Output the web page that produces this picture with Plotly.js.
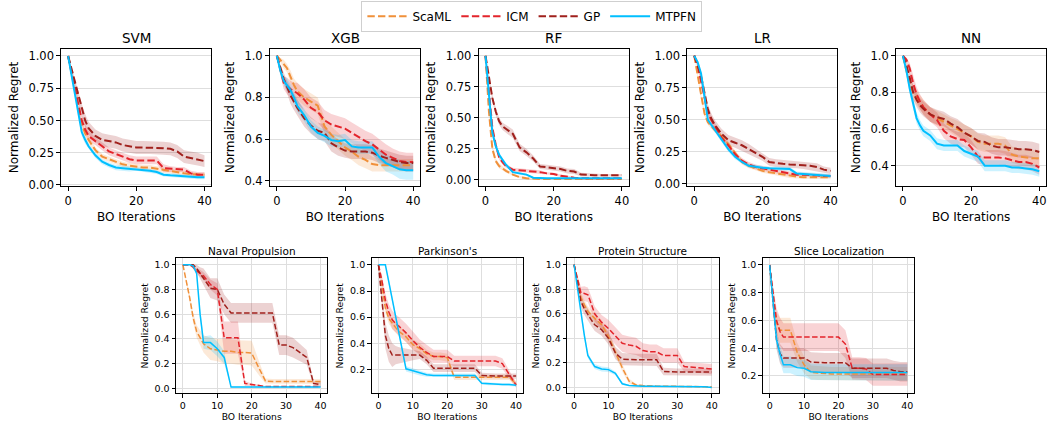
<!DOCTYPE html>
<html><head><meta charset="utf-8">
<script src="https://cdn.plot.ly/plotly-3.0.1.min.js"></script>
<style>html,body{margin:0;padding:0;background:#fff}#chart{width:1047px;height:425px}</style>
</head><body><div id="chart"></div>
<script>
const ITER = [0,1,2,3,4,5,6,8,10,12,14,16,18,20,22,24,26,28,30,32,34,36,38,40];
const METHODS = ['ScaML','ICM','GP','MTPFN'];

// ---- SVM ----
const svm_scaml = [1.0,0.86,0.72,0.58,0.47,0.40,0.35,0.27,0.22,0.20,0.18,0.16,0.15,0.14,0.135,0.135,0.125,0.115,0.11,0.095,0.09,0.083,0.08,0.08];
const svm_scaml_sd = [0,0.02,0.03,0.03,0.03,0.03,0.03,0.02,0.02,0.02,0.02,0.02,0.02,0.02,0.02,0.02,0.02,0.02,0.02,0.02,0.02,0.015,0.015,0.015];
const svm_icm = [1.0,0.88,0.76,0.62,0.50,0.43,0.38,0.34,0.30,0.26,0.24,0.22,0.20,0.19,0.19,0.19,0.19,0.13,0.125,0.12,0.12,0.09,0.08,0.08];
const svm_icm_sd = [0,0.02,0.03,0.04,0.04,0.04,0.04,0.03,0.03,0.03,0.03,0.03,0.03,0.03,0.03,0.03,0.03,0.03,0.02,0.02,0.02,0.02,0.02,0.02];
const svm_gp = [1.0,0.90,0.79,0.68,0.58,0.50,0.44,0.38,0.35,0.34,0.33,0.31,0.30,0.29,0.29,0.29,0.29,0.285,0.28,0.26,0.22,0.21,0.20,0.185];
const svm_gp_sd = [0,0.02,0.03,0.04,0.05,0.05,0.05,0.05,0.05,0.05,0.05,0.05,0.05,0.05,0.05,0.05,0.05,0.05,0.05,0.05,0.05,0.05,0.05,0.045];
const svm_mtpfn = [1.0,0.85,0.70,0.55,0.41,0.35,0.30,0.23,0.18,0.155,0.135,0.13,0.125,0.125,0.12,0.11,0.10,0.08,0.075,0.07,0.07,0.065,0.06,0.06];
const svm_mtpfn_sd = [0,0.02,0.03,0.03,0.03,0.03,0.02,0.02,0.02,0.02,0.02,0.02,0.02,0.015,0.015,0.015,0.015,0.015,0.015,0.015,0.015,0.015,0.015,0.015];

// ---- XGB ----
const xgb_scaml = [1.0,0.98,0.96,0.94,0.90,0.86,0.83,0.80,0.78,0.76,0.66,0.62,0.59,0.56,0.54,0.515,0.50,0.48,0.475,0.475,0.475,0.475,0.475,0.475];
const xgb_scaml_sd = [0,0.01,0.02,0.02,0.03,0.03,0.04,0.04,0.04,0.04,0.04,0.04,0.04,0.04,0.04,0.04,0.04,0.035,0.03,0.03,0.03,0.03,0.03,0.03];
const xgb_icm = [1.0,0.93,0.87,0.855,0.84,0.83,0.82,0.79,0.75,0.73,0.69,0.67,0.66,0.65,0.63,0.61,0.59,0.575,0.55,0.525,0.51,0.495,0.49,0.49];
const xgb_icm_sd = [0,0.02,0.03,0.04,0.04,0.04,0.05,0.05,0.05,0.05,0.05,0.05,0.05,0.05,0.05,0.05,0.05,0.05,0.05,0.05,0.045,0.045,0.045,0.045];
const xgb_gp = [1.0,0.94,0.89,0.85,0.81,0.78,0.75,0.70,0.665,0.64,0.63,0.58,0.56,0.545,0.54,0.54,0.54,0.535,0.52,0.51,0.50,0.49,0.485,0.485];
const xgb_gp_sd = [0,0.02,0.03,0.03,0.04,0.04,0.04,0.04,0.04,0.04,0.04,0.04,0.04,0.035,0.035,0.035,0.035,0.035,0.035,0.035,0.035,0.035,0.035,0.035];
const xgb_mtpfn = [1.0,0.93,0.88,0.86,0.835,0.80,0.76,0.715,0.66,0.63,0.615,0.595,0.59,0.595,0.565,0.56,0.56,0.56,0.515,0.485,0.47,0.455,0.45,0.45];
const xgb_mtpfn_sd = [0,0.02,0.02,0.03,0.03,0.03,0.03,0.03,0.03,0.03,0.03,0.03,0.03,0.03,0.03,0.03,0.03,0.03,0.035,0.04,0.04,0.045,0.045,0.045];

// ---- RF ----
const rf_scaml = [1.0,0.55,0.25,0.15,0.11,0.09,0.07,0.04,0.02,0.01,0.005,0.005,0.005,0.005,0.005,0.005,0.005,0.005,0.005,0.005,0.005,0.005,0.005,0.005];
const rf_scaml_sd = [0,0.03,0.03,0.02,0.02,0.015,0.015,0.01,0.01,0.01,0.005,0.005,0.005,0.005,0.005,0.005,0.005,0.005,0.005,0.005,0.005,0.005,0.005,0.005];
const rf_icm = [1.0,0.70,0.42,0.28,0.18,0.14,0.11,0.08,0.075,0.07,0.07,0.06,0.05,0.045,0.03,0.02,0.015,0.01,0.01,0.01,0.01,0.01,0.01,0.01];
const rf_icm_sd = [0,0.03,0.03,0.03,0.02,0.02,0.015,0.015,0.015,0.015,0.015,0.015,0.01,0.01,0.01,0.01,0.01,0.005,0.005,0.005,0.005,0.005,0.005,0.005];
const rf_gp = [1.0,0.82,0.66,0.55,0.47,0.43,0.41,0.37,0.26,0.22,0.17,0.105,0.10,0.095,0.085,0.07,0.065,0.04,0.035,0.035,0.035,0.035,0.035,0.035];
const rf_gp_sd = [0,0.02,0.03,0.03,0.03,0.03,0.03,0.035,0.03,0.03,0.025,0.02,0.02,0.02,0.02,0.02,0.02,0.015,0.015,0.01,0.01,0.01,0.01,0.01];
const rf_mtpfn = [1.0,0.68,0.38,0.27,0.20,0.16,0.12,0.06,0.05,0.04,0.015,0.01,0.01,0.01,0.01,0.01,0.01,0.01,0.01,0.01,0.01,0.01,0.01,0.01];
const rf_mtpfn_sd = [0,0.02,0.02,0.02,0.02,0.015,0.015,0.01,0.01,0.01,0.005,0.005,0.005,0.005,0.005,0.005,0.005,0.005,0.005,0.005,0.005,0.005,0.005,0.005];

// ---- LR ----
const lr_scaml = [1.0,0.85,0.68,0.55,0.48,0.45,0.42,0.37,0.31,0.24,0.17,0.14,0.12,0.10,0.09,0.08,0.07,0.06,0.055,0.05,0.05,0.05,0.05,0.05];
const lr_scaml_sd = [0,0.02,0.02,0.02,0.02,0.02,0.02,0.02,0.02,0.02,0.02,0.02,0.015,0.015,0.015,0.015,0.015,0.015,0.015,0.015,0.015,0.015,0.015,0.015];
const lr_icm = [1.0,0.92,0.80,0.68,0.55,0.50,0.45,0.36,0.30,0.23,0.18,0.15,0.13,0.12,0.11,0.10,0.09,0.08,0.07,0.07,0.07,0.065,0.06,0.06];
const lr_icm_sd = [0,0.02,0.03,0.03,0.03,0.03,0.03,0.02,0.02,0.02,0.02,0.02,0.02,0.02,0.02,0.02,0.02,0.02,0.015,0.015,0.015,0.015,0.015,0.015];
const lr_gp = [1.0,0.93,0.84,0.72,0.58,0.51,0.46,0.39,0.34,0.32,0.30,0.27,0.24,0.21,0.17,0.16,0.155,0.15,0.15,0.145,0.14,0.13,0.11,0.10];
const lr_gp_sd = [0,0.02,0.03,0.04,0.04,0.04,0.04,0.04,0.04,0.04,0.04,0.04,0.035,0.03,0.03,0.03,0.03,0.03,0.03,0.03,0.03,0.03,0.025,0.025];
const lr_mtpfn = [1.0,0.95,0.86,0.68,0.50,0.46,0.42,0.35,0.27,0.21,0.17,0.14,0.13,0.125,0.12,0.12,0.115,0.115,0.08,0.075,0.07,0.07,0.065,0.06];
const lr_mtpfn_sd = [0,0.01,0.02,0.02,0.02,0.02,0.02,0.02,0.02,0.02,0.015,0.015,0.015,0.015,0.015,0.015,0.015,0.015,0.015,0.015,0.015,0.015,0.015,0.015];

// ---- NN ----
const nn_scaml = [1.0,0.92,0.84,0.80,0.77,0.745,0.72,0.68,0.66,0.64,0.62,0.60,0.58,0.56,0.53,0.52,0.52,0.52,0.51,0.46,0.45,0.445,0.44,0.44];
const nn_scaml_sd = [0,0.02,0.03,0.04,0.04,0.04,0.04,0.04,0.04,0.04,0.04,0.045,0.045,0.045,0.045,0.045,0.045,0.045,0.045,0.045,0.045,0.045,0.045,0.045];
const nn_icm = [1.0,0.98,0.93,0.85,0.79,0.75,0.72,0.68,0.65,0.59,0.56,0.545,0.54,0.50,0.45,0.445,0.445,0.445,0.44,0.43,0.42,0.42,0.41,0.39];
const nn_icm_sd = [0,0.01,0.03,0.04,0.04,0.04,0.04,0.04,0.04,0.04,0.04,0.04,0.04,0.04,0.04,0.04,0.04,0.04,0.04,0.04,0.04,0.04,0.04,0.04];
const nn_gp = [1.0,0.95,0.88,0.80,0.76,0.73,0.71,0.68,0.665,0.655,0.63,0.61,0.58,0.56,0.535,0.53,0.51,0.50,0.50,0.495,0.49,0.49,0.485,0.475];
const nn_gp_sd = [0,0.02,0.03,0.04,0.04,0.04,0.04,0.04,0.04,0.04,0.04,0.045,0.045,0.045,0.045,0.045,0.045,0.045,0.045,0.045,0.045,0.045,0.045,0.045];
const nn_mtpfn = [1.0,0.92,0.82,0.74,0.66,0.62,0.59,0.565,0.52,0.51,0.51,0.51,0.48,0.465,0.45,0.40,0.40,0.40,0.40,0.39,0.39,0.385,0.38,0.37];
const nn_mtpfn_sd = [0,0.02,0.03,0.03,0.03,0.03,0.03,0.03,0.03,0.03,0.03,0.03,0.03,0.03,0.03,0.03,0.03,0.03,0.03,0.03,0.03,0.03,0.03,0.03];

// ---- Naval Propulsion ----
const naval_scaml = [1.0,0.87,0.73,0.57,0.46,0.41,0.36,0.32,0.31,0.30,0.30,0.29,0.29,0.285,0.17,0.06,0.055,0.055,0.055,0.055,0.055,0.055,0.055,0.055];
const naval_scaml_sd = [0,0.02,0.03,0.04,0.05,0.06,0.07,0.09,0.09,0.1,0.1,0.1,0.1,0.1,0.06,0.02,0.02,0.02,0.02,0.02,0.02,0.02,0.02,0.02];
const naval_icm = [1.0,1.0,1.0,0.98,0.95,0.93,0.91,0.84,0.80,0.41,0.41,0.41,0.04,0.03,0.02,0.015,0.015,0.015,0.015,0.015,0.015,0.015,0.015,0.015];
const naval_icm_sd = [0,0,0,0.01,0.02,0.03,0.03,0.04,0.05,0.13,0.13,0.13,0.02,0.01,0.01,0.005,0.005,0.005,0.005,0.005,0.005,0.005,0.005,0.005];
const naval_gp = [1.0,1.0,1.0,1.0,0.97,0.93,0.90,0.81,0.80,0.68,0.61,0.61,0.61,0.61,0.61,0.61,0.61,0.35,0.35,0.33,0.29,0.25,0.04,0.03];
const naval_gp_sd = [0,0,0,0,0.03,0.05,0.07,0.08,0.09,0.08,0.08,0.08,0.08,0.08,0.08,0.08,0.08,0.08,0.08,0.08,0.07,0.06,0.02,0.02];
const naval_mtpfn = [1.0,1.0,1.0,0.99,0.93,0.60,0.37,0.37,0.32,0.25,0.01,0.01,0.01,0.01,0.01,0.01,0.01,0.01,0.01,0.01,0.01,0.01,0.01,0.01];
const naval_mtpfn_sd = [0,0,0,0.01,0.02,0.04,0.05,0.06,0.06,0.05,0.005,0.005,0.005,0.005,0.005,0.005,0.005,0.005,0.005,0.005,0.005,0.005,0.005,0.005];

// ---- Parkinson's ----
const park_scaml = [1.0,0.85,0.67,0.59,0.55,0.52,0.49,0.45,0.39,0.36,0.32,0.30,0.30,0.29,0.14,0.14,0.14,0.14,0.14,0.14,0.14,0.14,0.14,0.09];
const park_scaml_sd = [0,0.03,0.04,0.04,0.04,0.04,0.04,0.04,0.04,0.04,0.03,0.03,0.03,0.03,0.02,0.02,0.02,0.02,0.02,0.02,0.02,0.02,0.02,0.02];
const park_icm = [1.0,0.88,0.73,0.64,0.58,0.55,0.53,0.48,0.42,0.37,0.33,0.30,0.30,0.30,0.265,0.265,0.265,0.265,0.265,0.265,0.265,0.245,0.16,0.08];
const park_icm_sd = [0,0.04,0.05,0.06,0.07,0.07,0.07,0.07,0.07,0.06,0.06,0.05,0.05,0.05,0.04,0.04,0.04,0.04,0.04,0.04,0.04,0.04,0.03,0.02];
const park_gp = [1.0,0.74,0.46,0.36,0.31,0.31,0.31,0.31,0.31,0.31,0.27,0.21,0.21,0.21,0.21,0.21,0.21,0.21,0.155,0.15,0.15,0.15,0.15,0.15];
const park_gp_sd = [0,0.08,0.1,0.1,0.09,0.07,0.06,0.05,0.04,0.03,0.03,0.03,0.03,0.03,0.03,0.03,0.03,0.03,0.02,0.02,0.02,0.02,0.02,0.02];
const park_mtpfn = [1.0,1.0,1.0,0.87,0.74,0.60,0.47,0.205,0.19,0.175,0.16,0.155,0.155,0.155,0.155,0.155,0.155,0.155,0.095,0.09,0.09,0.085,0.085,0.08];
const park_mtpfn_sd = [0,0,0,0.02,0.02,0.02,0.02,0.02,0.02,0.02,0.015,0.015,0.015,0.015,0.015,0.015,0.015,0.015,0.01,0.01,0.01,0.01,0.01,0.01];

// ---- Protein Structure ----
const prot_scaml = [1.0,0.86,0.73,0.67,0.62,0.59,0.565,0.51,0.415,0.29,0.16,0.05,0.02,0.015,0.01,0.01,0.01,0.01,0.01,0.01,0.01,0.01,0.005,0.005];
const prot_scaml_sd = [0,0.03,0.04,0.04,0.04,0.04,0.04,0.04,0.04,0.03,0.03,0.02,0.01,0.005,0.005,0.005,0.005,0.005,0.005,0.005,0.005,0.005,0.005,0.005];
const prot_icm = [1.0,0.88,0.77,0.765,0.755,0.68,0.60,0.53,0.48,0.42,0.36,0.345,0.335,0.30,0.29,0.29,0.26,0.26,0.26,0.17,0.165,0.16,0.155,0.15];
const prot_icm_sd = [0,0.03,0.05,0.06,0.06,0.06,0.06,0.06,0.07,0.07,0.07,0.07,0.07,0.06,0.06,0.06,0.06,0.06,0.06,0.04,0.04,0.04,0.04,0.04];
const prot_gp = [1.0,0.85,0.70,0.64,0.59,0.55,0.51,0.47,0.40,0.28,0.23,0.225,0.225,0.225,0.225,0.225,0.13,0.125,0.125,0.125,0.125,0.125,0.125,0.125];
const prot_gp_sd = [0,0.03,0.05,0.05,0.05,0.05,0.05,0.05,0.05,0.05,0.05,0.05,0.05,0.05,0.05,0.05,0.03,0.03,0.03,0.03,0.03,0.03,0.03,0.03];
const prot_mtpfn = [1.0,0.80,0.62,0.42,0.26,0.21,0.17,0.15,0.145,0.115,0.03,0.015,0.01,0.01,0.01,0.01,0.01,0.01,0.01,0.01,0.01,0.005,0.005,0.0];
const prot_mtpfn_sd = [0,0.02,0.02,0.02,0.02,0.02,0.02,0.02,0.02,0.015,0.01,0.005,0.005,0.005,0.005,0.005,0.005,0.005,0.005,0.005,0.005,0.005,0.005,0.005];

// ---- Slice Localization ----
const slice_scaml = [1.0,0.75,0.58,0.53,0.53,0.53,0.53,0.37,0.28,0.225,0.22,0.22,0.215,0.215,0.215,0.215,0.215,0.215,0.215,0.215,0.215,0.215,0.215,0.215];
const slice_scaml_sd = [0,0.05,0.08,0.09,0.09,0.09,0.09,0.07,0.06,0.05,0.05,0.05,0.05,0.05,0.05,0.05,0.05,0.05,0.05,0.05,0.05,0.05,0.05,0.05];
const slice_icm = [1.0,0.78,0.60,0.52,0.48,0.48,0.48,0.48,0.48,0.48,0.48,0.48,0.48,0.48,0.43,0.255,0.255,0.25,0.21,0.21,0.21,0.21,0.21,0.21];
const slice_icm_sd = [0,0.06,0.09,0.1,0.1,0.1,0.1,0.1,0.1,0.1,0.1,0.1,0.1,0.1,0.1,0.08,0.08,0.08,0.08,0.08,0.08,0.08,0.08,0.08];
const slice_gp = [1.0,0.70,0.46,0.36,0.33,0.33,0.33,0.33,0.33,0.30,0.295,0.295,0.295,0.295,0.295,0.255,0.255,0.255,0.255,0.255,0.255,0.24,0.23,0.23];
const slice_gp_sd = [0,0.05,0.07,0.07,0.07,0.07,0.07,0.07,0.07,0.07,0.07,0.07,0.07,0.07,0.07,0.07,0.07,0.07,0.07,0.07,0.07,0.07,0.07,0.07];
const slice_mtpfn = [1.0,0.72,0.46,0.36,0.28,0.28,0.28,0.26,0.255,0.23,0.225,0.225,0.225,0.225,0.225,0.225,0.225,0.225,0.225,0.225,0.225,0.225,0.225,0.225];
const slice_mtpfn_sd = [0,0.04,0.06,0.06,0.06,0.06,0.06,0.06,0.06,0.06,0.06,0.06,0.06,0.06,0.06,0.06,0.06,0.06,0.06,0.06,0.06,0.06,0.06,0.06];

// ---- styles ----
const COLORS = {ScaML:[240,144,58], ICM:[227,36,43], GP:[160,32,28], MTPFN:[0,191,255]};
const DASH = {ScaML:true, ICM:true, GP:true, MTPFN:false};
const FONT = 'DejaVu Sans';
const W = 1047, H = 425;

const panels = [
  {title:'SVM', m:[svm_scaml,svm_icm,svm_gp,svm_mtpfn], s:[svm_scaml_sd,svm_icm_sd,svm_gp_sd,svm_mtpfn_sd], yr:[-0.008,1.054], yt:[0,0.25,0.5,0.75,1], yf:'.2f'},
  {title:'XGB', m:[xgb_scaml,xgb_icm,xgb_gp,xgb_mtpfn], s:[xgb_scaml_sd,xgb_icm_sd,xgb_gp_sd,xgb_mtpfn_sd], yr:[0.375,1.032], yt:[0.4,0.6,0.8,1.0], yf:'.1f'},
  {title:'RF', m:[rf_scaml,rf_icm,rf_gp,rf_mtpfn], s:[rf_scaml_sd,rf_icm_sd,rf_gp_sd,rf_mtpfn_sd], yr:[-0.052,1.055], yt:[0,0.25,0.5,0.75,1], yf:'.2f'},
  {title:'LR', m:[lr_scaml,lr_icm,lr_gp,lr_mtpfn], s:[lr_scaml_sd,lr_icm_sd,lr_gp_sd,lr_mtpfn_sd], yr:[-0.018,1.052], yt:[0,0.25,0.5,0.75,1], yf:'.2f'},
  {title:'NN', m:[nn_scaml,nn_icm,nn_gp,nn_mtpfn], s:[nn_scaml_sd,nn_icm_sd,nn_gp_sd,nn_mtpfn_sd], yr:[0.289,1.037], yt:[0.4,0.6,0.8,1.0], yf:'.1f'},
  {title:'Naval Propulsion', m:[naval_scaml,naval_icm,naval_gp,naval_mtpfn], s:[naval_scaml_sd,naval_icm_sd,naval_gp_sd,naval_mtpfn_sd], yr:[-0.04,1.052], yt:[0,0.2,0.4,0.6,0.8,1.0], yf:'.1f'},
  {title:"Parkinson's", m:[park_scaml,park_icm,park_gp,park_mtpfn], s:[park_scaml_sd,park_icm_sd,park_gp_sd,park_mtpfn_sd], yr:[0.018,1.05], yt:[0.2,0.4,0.6,0.8,1.0], yf:'.1f'},
  {title:'Protein Structure', m:[prot_scaml,prot_icm,prot_gp,prot_mtpfn], s:[prot_scaml_sd,prot_icm_sd,prot_gp_sd,prot_mtpfn_sd], yr:[-0.048,1.052], yt:[0,0.2,0.4,0.6,0.8,1.0], yf:'.1f'},
  {title:'Slice Localization', m:[slice_scaml,slice_icm,slice_gp,slice_mtpfn], s:[slice_scaml_sd,slice_icm_sd,slice_gp_sd,slice_mtpfn_sd], yr:[0.075,1.048], yt:[0.2,0.4,0.6,0.8,1.0], yf:'.1f'}
];

const rgba = (c,a) => `rgba(${c[0]},${c[1]},${c[2]},${a})`;
const traces = [];
const layout = {
  width: W, height: H, margin:{l:0,r:0,t:0,b:0},
  paper_bgcolor:'#fff', plot_bgcolor:'#fff',
  font:{family:FONT, color:'#000', size:11},
  showlegend:true,
  legend:{orientation:'h', x:0.508, xanchor:'center', y:0.998, yanchor:'top',
          bordercolor:'#cfcfcf', borderwidth:1, bgcolor:'rgba(255,255,255,0.9)',
          font:{family:FONT, size:12, color:'#000'}, traceorder:'normal', itemwidth:40},
  annotations:[]
};

panels.forEach((p, i) => {
  const top = i < 5;
  const col = top ? i : i - 5;
  const left = top ? 61.3 + col*208.7 : 176 + col*195.6;
  const w = top ? 150 : 151.4;
  const yTop = top ? 49 : 258.3, yBot = top ? 186 : 393.3;
  const xa = 'x' + (i ? i+1 : ''), ya = 'y' + (i ? i+1 : '');
  const xk = 'xaxis' + (i ? i+1 : ''), yk = 'yaxis' + (i ? i+1 : '');
  const tickSize = top ? 11.5 : 9.5, labSize = top ? 12 : 9.2;
  const lw = top ? 2 : 1.5;
  const dash = top ? '7.4px,3.2px' : '5.5px,2.4px';

  layout[xk] = {domain:[left/W, (left+w)/W], range:[-2,42], anchor:ya,
    tickvals: top ? [0,20,40] : [0,10,20,30,40], ticks:'outside', ticklen: top?4:3.5, tickwidth:1, tickcolor:'#000',
    showline:true, mirror:true, linecolor:'#000', linewidth:1, zeroline:false,
    showgrid: !top, gridcolor:'#dedede', gridwidth:1,
    tickfont:{family:FONT, size:tickSize, color:'#000'},
    title:{text:'BO Iterations', font:{family:FONT, size:labSize, color:'#000'}, standoff: top?5:2}};
  layout[yk] = {domain:[1-yBot/H, 1-yTop/H], range:p.yr, anchor:xa,
    tickvals:p.yt, tickformat:p.yf, ticks:'outside', ticklen: top?4:3.5, tickwidth:1, tickcolor:'#000',
    showline:true, mirror:true, linecolor:'#000', linewidth:1, zeroline:false,
    showgrid:true, gridcolor:'#dedede', gridwidth:1,
    tickfont:{family:FONT, size:tickSize, color:'#000'},
    title:{text:'Normalized Regret', font:{family:FONT, size:labSize, color:'#000'}, standoff: top?7:4}};

  layout.annotations.push({text:p.title, xref:'paper', yref:'paper', x:(left+w/2)/W,
    y: 1 - (top ? 37.5 : 251)/H, xanchor:'center', yanchor:'middle', showarrow:false,
    font:{family:FONT, size: top?13.5:10.5, color:'#000', weight:'normal'}});

  // bands
  METHODS.forEach((name, k) => {
    const mean = p.m[k], sd = p.s[k];
    const up = mean.map((v,j) => v + sd[j]);
    const lo = mean.map((v,j) => v - sd[j]);
    traces.push({x: ITER.concat(ITER.slice().reverse()), y: up.concat(lo.slice().reverse()),
      xaxis:xa, yaxis:ya, type:'scatter', mode:'lines', fill:'toself',
      fillcolor: rgba(COLORS[name], 0.2), line:{width:0, color:'rgba(0,0,0,0)'},
      hoverinfo:'skip', showlegend:false});
  });
  // lines
  METHODS.forEach((name, k) => {
    traces.push({x: ITER, y: p.m[k], xaxis:xa, yaxis:ya, type:'scatter', mode:'lines', name:name,
      line:{color: rgba(COLORS[name],1), width: lw, dash: DASH[name] ? dash : 'solid'},
      showlegend: i === 0, legendgroup:name});
  });
});

Plotly.newPlot('chart', traces, layout, {staticPlot:true, displayModeBar:false});
</script>
</body></html>
